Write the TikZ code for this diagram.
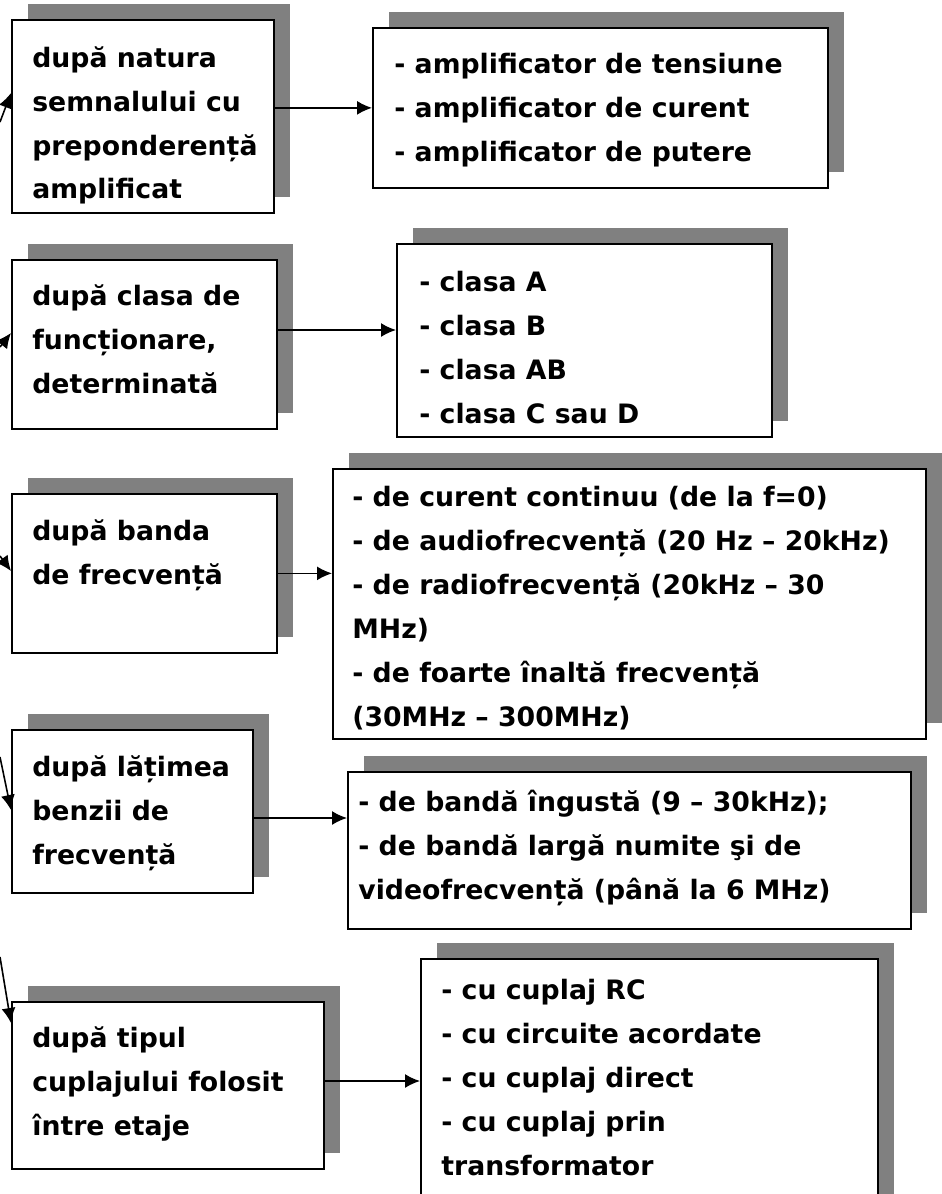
\documentclass[tikz,border=0pt]{standalone}
\usepackage{fontspec}
\setmainfont{DejaVu Sans}
\usetikzlibrary{arrows.meta,shadows}

\begin{document}
\begin{tikzpicture}[x=0.02cm,y=-0.02cm,
  box/.style={draw,line width=1pt,fill=white,anchor=north west,inner sep=0pt,
    drop shadow={shadow xshift=0.32cm,shadow yshift=0.32cm,fill=gray,opacity=1}},
  txt/.style={anchor=north west,inner sep=0pt,align=left,
    font=\bfseries\fontsize{15.2}{25}\selectfont,execute at begin node=\strut},
  conn/.style={line width=0.9pt,-{Latex[length=0.3cm,width=0.28cm]}}]
\useasboundingbox (0,0) rectangle (942,1194);

% left column
\node[box,minimum width=5.24cm,minimum height=3.86cm] (l1) at (11,19) {};
\node[box,minimum width=5.30cm,minimum height=3.38cm] (l2) at (11,259) {};
\node[box,minimum width=5.30cm,minimum height=3.18cm] (l3) at (11,493) {};
\node[box,minimum width=4.82cm,minimum height=3.26cm] (l4) at (11,729) {};
\node[box,minimum width=6.24cm,minimum height=3.34cm] (l5) at (11,1001) {};

% right column
\node[box,minimum width=9.10cm,minimum height=3.20cm] (r1) at (372,27) {};
\node[box,minimum width=7.50cm,minimum height=3.86cm] (r2) at (396,243) {};
\node[box,minimum width=11.86cm,minimum height=5.40cm] (r3) at (332,468) {};
\node[box,minimum width=11.26cm,minimum height=3.14cm] (r4) at (347,771) {};
\node[box,minimum width=9.14cm,minimum height=5.20cm] (r5) at (420,958) {};

\node[txt] (l1t) at (32,46) {după natura\\semnalului cu\\preponderență\\amplificat};
\node[txt] (l2t) at (32,284) {după clasa de\\funcționare,\\determinată};
\node[txt] (l3t) at (32,519) {după banda\\de frecvență};
\node[txt] (l4t) at (32,755) {după lățimea\\benzii de\\frecvență};
\node[txt] (l5t) at (32,1026) {după tipul\\cuplajului folosit\\între etaje};

\node[txt] (r1t) at (394,53) {- amplificator de tensiune\\- amplificator de curent\\- amplificator de putere};
\node[txt] (r2t) at (419,271) {- clasa A\\- clasa B\\- clasa AB\\- clasa C sau D};
\node[txt] (r3t) at (352,486) {- de curent continuu (de la f=0)\\- de audiofrecvență (20 Hz – 20kHz)\\- de radiofrecvență (20kHz – 30\\MHz)\\- de foarte înaltă frecvență\\(30MHz – 300MHz)};
\node[txt] (r4t) at (358,790) {- de bandă îngustă (9 – 30kHz);\\- de bandă largă numite şi de\\videofrecvență (până la 6 MHz)};
\node[txt] (r5t) at (441,979) {- cu cuplaj RC\\- cu circuite acordate\\- cu cuplaj direct\\- cu cuplaj prin\\transformator};

% incoming arrows from the left edge
\coordinate (s1) at (0,122);
\coordinate (s2) at (0,347);
\coordinate (s3) at (0,556);
\coordinate (s4) at (0,757);
\coordinate (s5) at (0,957);
\draw[conn] (s1) -- (l1.west |- 0,93);
\draw[conn] (s2) -- (l2.west |- 0,333);
\draw[conn] (s3) -- (l3.west |- 0,571);
\draw[conn] (s4) -- (l4.west |- 0,810);
\draw[conn] (s5) -- (l5.west |- 0,1023);

\draw[conn] (l1.east |- r1.west) -- (r1.west);
\draw[conn] (l2.east |- 0,330) -- (r2.west |- 0,330);
\draw[conn] (l3.east) -- (l3.east -| r3.west);
\draw[conn] (l4.east |- 0,818) -- (r4.west |- 0,818);
\draw[conn] (l5.east |- 0,1081) -- (r5.west |- 0,1081);
\end{tikzpicture}
\end{document}
